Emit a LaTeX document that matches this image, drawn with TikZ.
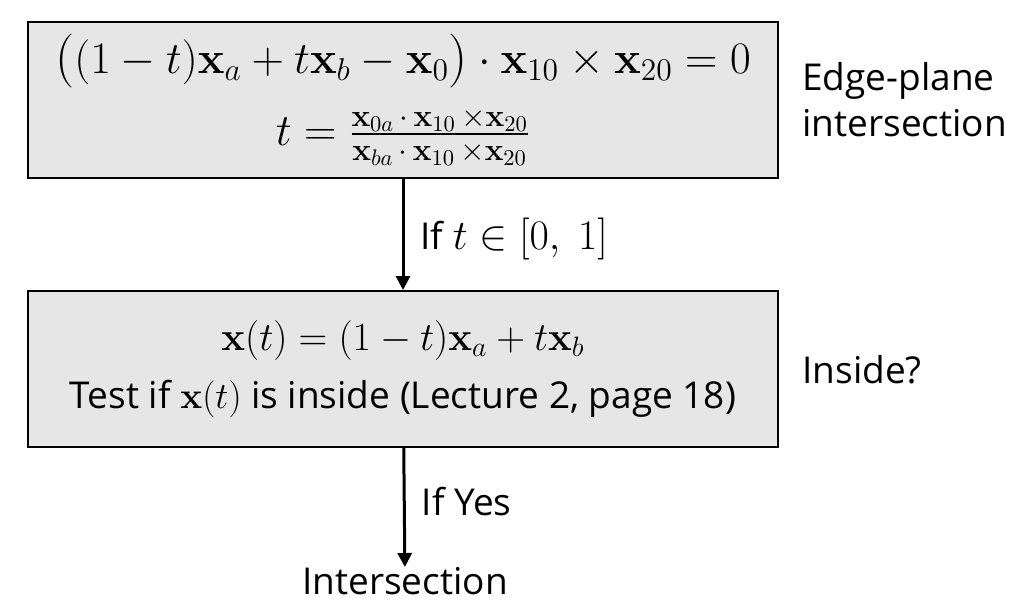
\RequirePackage{fix-cm}
\documentclass[tikz,border=0pt]{standalone}
\usepackage{amsmath}
\usepackage{graphicx}
\usepackage[no-math]{fontspec}
\setmainfont{Open Sans}
\usetikzlibrary{positioning,arrows.meta}
\definecolor{boxgray}{HTML}{E7E6E6}
\newcommand{\bigparl}{\mathopen{\raisebox{-0.8pt}{\scalebox{1.2}{$($}}}}
\newcommand{\bigparr}{\mathclose{\raisebox{-0.8pt}{\scalebox{1.2}{$)$}}}}

\begin{document}
\begin{tikzpicture}[x=0.5pt,y=-0.5pt,
        mathbox/.style={draw,line width=1pt,fill=boxgray,minimum width=375pt,minimum height=78pt,align=center},
        flow/.style={line width=1.5pt,-{Triangle[width=7pt,length=7pt]}},
        lbl/.style={font=\fontsize{18.5}{23}\selectfont,inner sep=0pt}]
        \useasboundingbox (0,0) rectangle (1021,607);

        \node[mathbox,font=\fontsize{22.5}{26}\selectfont] (edge) at (403,100) {$\bigparl(1-t)\mathbf{x}_a+t\mathbf{x}_b-\mathbf{x}_0\bigparr\cdot\mathbf{x}_{10}\times\mathbf{x}_{20}=0$\\[10pt]
            $t=\frac{\mathbf{x}_{0a}\,\cdot\,\mathbf{x}_{10}\,\times\mathbf{x}_{20}}{\mathbf{x}_{ba}\,\cdot\,\mathbf{x}_{10}\,\times\mathbf{x}_{20}}$};
        \node[mathbox,font=\fontsize{20}{24}\selectfont] (inside) at (403,369) {$\mathbf{x}(t)=(1-t)\mathbf{x}_a+t\mathbf{x}_b$\\[5pt]
            {\fontsize{18.5}{23}\selectfont Test if $\mathbf{x}(t)$ is inside (Lecture 2, page 18)}};
        \node[lbl,anchor=north] (isect) at (405,567) {Intersection};

        \node[lbl,anchor=west,align=left] (edgelbl) at (802,100) {Edge-plane\\intersection};
        \node[lbl,anchor=west] (insidelbl) at (802,370) {Inside?};

        \draw[flow] (edge) -- (inside) node[lbl,midway,right=8pt,yshift=-2pt] (cond) {If {\fontsize{21}{24}\selectfont$t\in[0,\ 1]$}};
        \draw[flow] (inside) -- (isect) node[lbl,midway,right=8pt,yshift=3pt] (yes) {If Yes};
    \end{tikzpicture}
\end{document}
